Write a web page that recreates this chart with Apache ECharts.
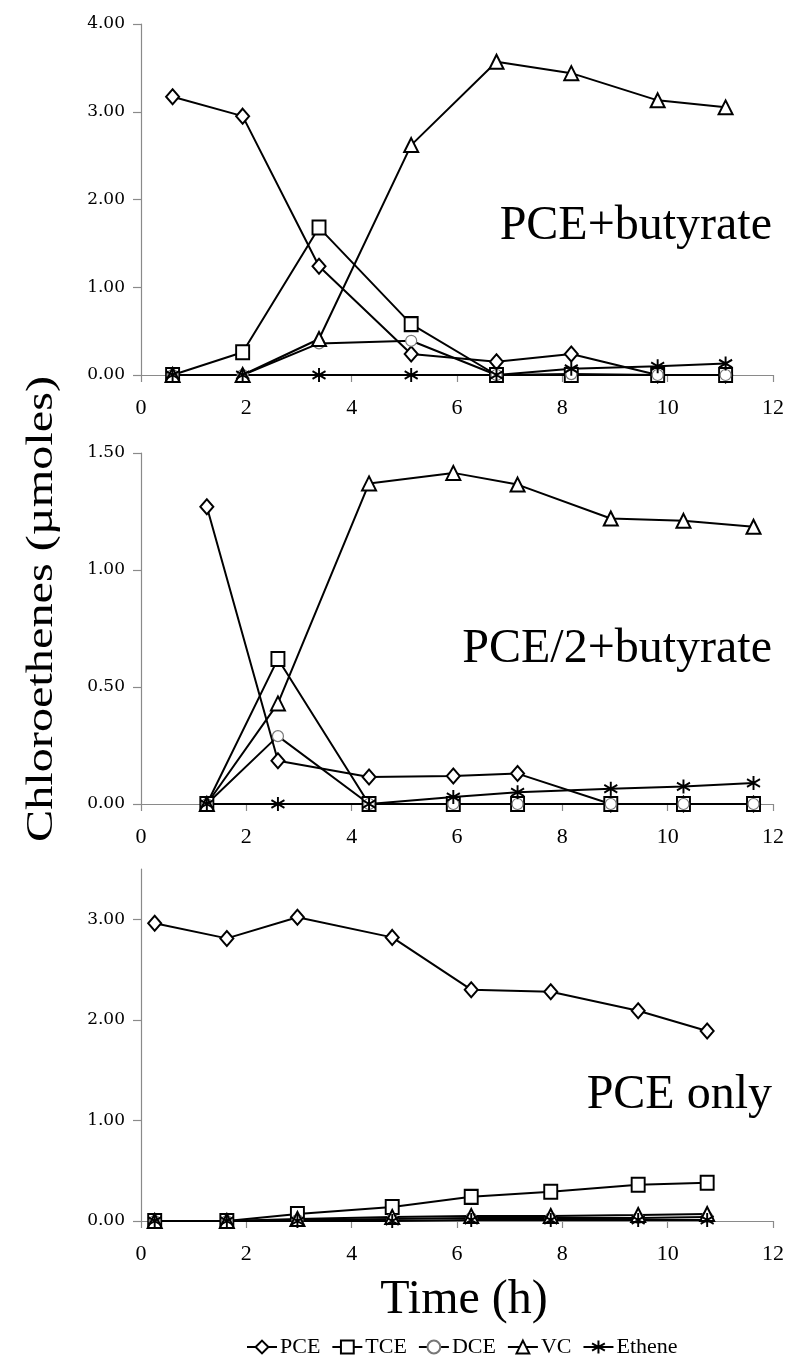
<!DOCTYPE html>
<html>
<head>
<meta charset="utf-8">
<script src="https://cdn.jsdelivr.net/npm/echarts@6/dist/echarts.min.js"></script>
<style>
  html, body { margin: 0; padding: 0; background: #fff; }
  #chart { width: 787px; height: 1358px; }
</style>
</head>
<body>
<div id="chart"></div>
<script>
// Chloroethene time courses for three incubations (µmoles vs hours)
const seriesNames = ['PCE', 'TCE', 'DCE', 'VC', 'Ethene'];
const panelLabels = ['PCE+butyrate', 'PCE/2+butyrate', 'PCE only'];
const xTicks = [0, 2, 4, 6, 8, 10, 12];

// Panel 1: PCE + butyrate
const timeA   = [0.6, 1.93, 3.38, 5.13, 6.75, 8.17, 9.81, 11.1];
const pceA    = [3.17, 2.95, 1.24, 0.24, 0.15, 0.24, 0.0, 0.0];
const tceA    = [0, 0.26, 1.68, 0.58, 0, 0, 0, 0];
const dceA    = [0, 0, 0.36, 0.39, 0, 0.01, 0, 0];
const vcA     = [0, 0, 0.41, 2.62, 3.57, 3.44, 3.13, 3.05];
const etheneA = [0, 0, 0, 0, 0, 0.07, 0.10, 0.13];
const yTicksA = [0, 1, 2, 3, 4];

// Panel 2: PCE/2 + butyrate
const timeB   = [1.25, 2.6, 4.33, 5.93, 7.15, 8.92, 10.3, 11.63];
const pceB    = [1.27, 0.185, 0.115, 0.12, 0.13, 0, 0, 0];
const tceB    = [0, 0.62, 0, 0, 0, 0, 0, 0];
const dceB    = [0, 0.29, 0, 0, 0, 0, 0, 0];
const vcB     = [0, 0.43, 1.37, 1.415, 1.365, 1.22, 1.21, 1.185];
const etheneB = [0, 0, 0, 0.03, 0.05, 0.065, 0.075, 0.09];
const yTicksB = [0, 0.5, 1.0, 1.5];

// Panel 3: PCE only
const timeC   = [0.26, 1.63, 2.97, 4.77, 6.27, 7.78, 9.44, 10.75];
const pceC    = [2.96, 2.81, 3.02, 2.82, 2.30, 2.28, 2.09, 1.89];
const tceC    = [0, 0, 0.07, 0.14, 0.24, 0.29, 0.36, 0.38];
const dceC    = [0, 0, 0.01, 0.02, 0.03, 0.03, 0.03, 0.04];
const vcC     = [0, 0, 0.02, 0.04, 0.05, 0.05, 0.06, 0.07];
const etheneC = [0, 0, 0, 0, 0.01, 0.01, 0.01, 0.01];
const yTicksC = [0, 1, 2, 3];

const panels = [
  { time: timeA, values: [pceA, tceA, dceA, vcA, etheneA], yMax: 4,   yTicks: yTicksA, top: 24,  height: 351 },
  { time: timeB, values: [pceB, tceB, dceB, vcB, etheneB], yMax: 1.5, yTicks: yTicksB, top: 453, height: 351 },
  { time: timeC, values: [pceC, tceC, dceC, vcC, etheneC], yMax: 3.5, yTicks: yTicksC, top: 869, height: 352 }
];

// asterisk marker: vertical stroke crossed by an X
const starPath = 'path://M10,0L10,20M1.5,4.5L18.5,15.5M1.5,15.5L18.5,4.5';
const markerStyles = {
  PCE:    { symbol: 'diamond',  symbolSize: [13, 15], border: '#000', bw: 2 },
  TCE:    { symbol: 'rect',     symbolSize: [13, 14], border: '#000', bw: 2 },
  DCE:    { symbol: 'circle',   symbolSize: 11,       border: '#777', bw: 1.2 },
  VC:     { symbol: 'triangle', symbolSize: [14, 14], border: '#000', bw: 2 },
  Ethene: { symbol: starPath,   symbolSize: [13, 14], border: '#000', bw: 2 }
};

const axisGrey = '#8a8a8a';
const grids = [], xAxes = [], yAxes = [], series = [];

panels.forEach((p, i) => {
  grids.push({ left: 141, width: 637, top: p.top, height: p.height });
  xAxes.push({
    gridIndex: i, type: 'value', min: 0, max: 12, interval: 2,
    axisLine: { onZero: false, lineStyle: { color: axisGrey, width: 1.2 } },
    axisTick: { inside: false, length: 7, lineStyle: { color: axisGrey, width: 1.2 } },
    splitLine: { show: false },
    axisLabel: {
      color: '#000', fontFamily: 'Liberation Serif', fontSize: 22, margin: 22,
      customValues: xTicks
    }
  });
  yAxes.push({
    gridIndex: i, type: 'value', min: 0, max: p.yMax,
    axisLine: { show: true, lineStyle: { color: axisGrey, width: 1.2 } },
    axisTick: { show: true, inside: false, length: 8, lineStyle: { color: axisGrey, width: 1.2 }, customValues: p.yTicks },
    splitLine: { show: false },
    axisLabel: {
      color: '#000', fontFamily: 'DejaVu Serif', fontSize: 17, margin: 16,
      customValues: p.yTicks,
      formatter: v => v.toFixed(2)
    }
  });
  seriesNames.forEach((name, k) => {
    const m = markerStyles[name];
    series.push({
      name: name, type: 'line',
      xAxisIndex: i, yAxisIndex: i,
      data: p.time.map((t, j) => [t, p.values[k][j]]),
      symbol: m.symbol, symbolSize: m.symbolSize, showAllSymbol: true,
      lineStyle: { color: '#000', width: 2 },
      itemStyle: { color: '#fff', borderColor: m.border, borderWidth: m.bw },
      emphasis: { disabled: true },
      animation: false
    });
  });
});

const labelCenters = [226, 649, 1095];
const graphics = panelLabels.map((txt, i) => ({
  type: 'text', x: 772, y: labelCenters[i],
  style: { text: txt, font: '48px "Liberation Serif"', fill: '#000', textAlign: 'right', textVerticalAlign: 'middle', verticalAlign: 'middle' }
}));
graphics.push({
  type: 'text', x: 464, y: 1300,
  style: { text: 'Time (h)', font: '48px "Liberation Serif"', fill: '#000', textAlign: 'center', textVerticalAlign: 'middle', verticalAlign: 'middle' }
});
graphics.push({
  type: 'text', x: 42, y: 609, rotation: Math.PI / 2, scaleX: 1.27,
  style: { text: 'Chloroethenes (µmoles)', font: '38px "Liberation Serif"', fill: '#000', textAlign: 'center', textVerticalAlign: 'middle', verticalAlign: 'middle' }
});

const chart = echarts.init(document.getElementById('chart'), null, { renderer: 'canvas' });
chart.setOption({
  backgroundColor: '#fff',
  animation: false,
  grid: grids,
  xAxis: xAxes,
  yAxis: yAxes,
  legend: {
    data: seriesNames,
    left: 241, top: 1331,
    itemWidth: 30, itemHeight: 16, itemGap: 11,
    textStyle: { color: '#000', fontFamily: 'Liberation Serif', fontSize: 22, padding: [0, 0, 0, -2] }
  },
  graphic: graphics,
  series: series
});
</script>
</body>
</html>
